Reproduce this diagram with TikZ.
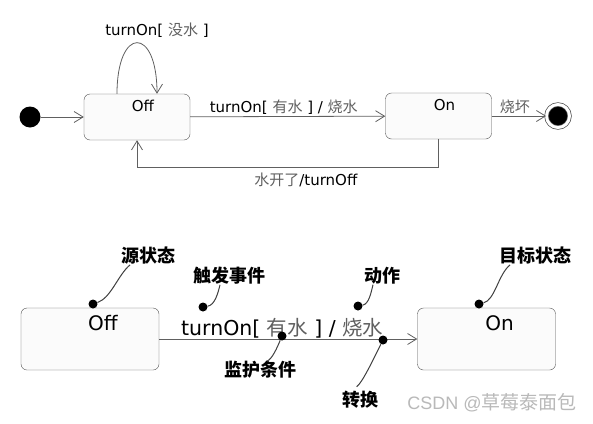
\documentclass[tikz,border=0pt]{standalone}
\usepackage{fontspec}
\setmainfont{DejaVu Sans}
\newfontfamily\cjk{Noto Sans CJK SC}
\newfontfamily\wmfont{Liberation Sans}
\usetikzlibrary{arrows.meta,positioning}
\newcommand{\zh}[1]{{\cjk\color{gray!75!black}#1}}

\begin{document}
\begin{tikzpicture}[x=1pt,y=-1pt]
    \tikzstyle{trans}=[draw=gray!75!black,line width=0.8pt,-{Straight Barb[length=9pt,width=11pt]}]
    \tikzstyle{state}=[rectangle,draw=gray!65!black,fill=gray!3,rounded corners=6pt,
                       font=\fontsize{15}{18}\selectfont,minimum width=106pt,
                       inner ysep=6pt,text height=11pt,text depth=23pt,
                       execute at begin node=\hspace*{12pt}]
    \tikzstyle{bigstate}=[state,font=\fontsize{20}{24}\selectfont,minimum width=138pt,
                          inner ysep=7pt,text height=15pt,text depth=33pt,
                          execute at begin node=\hspace*{14pt}]
    \tikzstyle{init}=[circle,fill=black,inner sep=0pt,minimum size=21pt]
    \tikzstyle{final}=[circle,fill=black,draw=gray!60!black,line width=0.7pt,
                       double=white,double distance=3pt,inner sep=0pt,minimum size=23pt]
    \tikzstyle{lbl}=[font=\fontsize{15}{18}\selectfont,text=black,inner sep=2pt]
    \tikzstyle{dot}=[circle,fill=black,inner sep=0pt,minimum size=9pt]
    \tikzstyle{note}=[font=\cjk\bfseries\fontsize{18}{20}\selectfont,inner sep=0pt]
    \tikzstyle{lead}=[draw=black!75,line width=1pt]
    \useasboundingbox[fill=white] (0,0) rectangle (593,423);

    % top diagram
    \node[init] (start) at (30,117) {};
    \node[state] (off) at (137,117) {Off};
    \node[state] (on) at (438.5,116) {On};
    \node[final] (end) at (558,116) {};
    \draw[trans] (start) -- (off);
    \draw[trans] ([xshift=-20pt]off.north) .. controls +(0,-68) and +(0,-68) .. ([xshift=20pt]off.north)
          node[lbl,pos=0.5,above=3pt,xshift=20pt] {turnOn[ \zh{没水} ]};
    \draw[trans] (off) -- node[lbl,above,xshift=-4pt] {turnOn[ \zh{有水} ] / \zh{烧水}} (on);
    \draw[trans] (on) -- node[lbl,above,xshift=-4pt] {\zh{烧坏}} (end);
    \draw[trans] (on.south) -- ++(0,28) -| node[lbl,pos=0.22,below=3pt] {\zh{水开了}/turnOff} (off.south);

    % bottom diagram
    \node[bigstate] (src) at (90,339) {Off};
    \node[bigstate] (dst) at (486.5,339) {On};
    \draw[trans] (src) -- node[lbl,font=\fontsize{20.5}{24}\selectfont,above=-2pt,xshift=-6pt]
          {turnOn[ \zh{有水} ] / \zh{烧水}} (dst);

    \node[dot] (d1) at (93,304) {};
    \node[dot] (d2) at (203,307) {};
    \node[dot] (d3) at (358,306) {};
    \node[dot] (d4) at (479,304) {};
    \node[dot] (d5) at (282,336) {};
    \node[dot] (d6) at (383,340) {};
    \node[note] (n1) at (148,256) {源状态};
    \node[note] (n2) at (229,276) {触发事件};
    \node[note] (n3) at (382,276) {动作};
    \node[note] (n4) at (535,256) {目标状态};
    \node[note] (n5) at (260,370) {监护条件};
    \node[note] (n6) at (360,400) {转换};
    \draw[lead] (d1) .. controls +(18,-6) and +(-12,10) .. ([xshift=-18pt]n1.south);
    \draw[lead] (d2) .. controls +(12,-2) and +(-2,8) .. ([xshift=-9pt]n2.south);
    \draw[lead] (d3) .. controls +(11,-2) and +(-2,8) .. ([xshift=-9pt]n3.south);
    \draw[lead] (d4) .. controls +(16,-4) and +(-12,10) .. ([xshift=-25pt]n4.south);
    \draw[lead] (d5) .. controls +(-5,12) and +(5,-2) .. ([xshift=7pt]n5.north);
    \draw[lead,shorten >=8pt] (d6) .. controls +(-10,20) and +(12,-8) .. ([xshift=-10pt]n6.north);

    \node[font=\wmfont\fontsize{18}{20}\selectfont,text=gray!55] (mark) at (492,403)
          {CSDN @{\cjk\fontsize{19}{20}\selectfont 草莓泰面包}};
\end{tikzpicture}
\end{document}
